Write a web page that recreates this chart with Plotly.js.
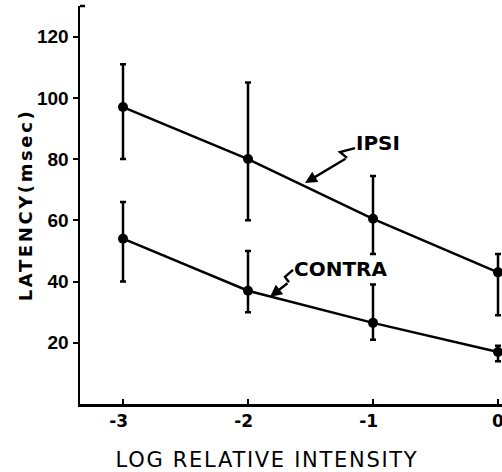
<!DOCTYPE html>
<html>
<head>
<meta charset="utf-8">
<script src="https://cdn.plot.ly/plotly-3.0.1.min.js"></script>
<style>
html,body{margin:0;padding:0;background:#fff;}
#chart{width:502px;height:472px;}
text.xtitle{letter-spacing:1.7px;transform:translate(-24px,0px);}
text.ytitle{letter-spacing:2.6px;}
</style>
</head>
<body>
<div id="chart"></div>
<script>
// Data
const logIntensity = [-3, -2, -1, 0];
const ipsiLatency = [97, 80, 60.5, 43];
const ipsiUpper = [111, 105, 74.5, 49];
const ipsiLower = [80, 60, 49, 29];
const contraLatency = [54, 37, 26.5, 17];
const contraUpper = [66, 50, 39, 19];
const contraLower = [40, 30, 21, 14];
const xTickVals = [-3, -2, -1, 0];
const xTickText = ['-3\u2002', '-2\u2002', '-1\u2002', '0'];
const yTickVals = [20, 40, 60, 80, 100, 120];
const seriesLabels = ['IPSI', 'CONTRA'];

function errs(v, up, lo) {
  return {
    plus: up.map((u, i) => u - v[i]),
    minus: lo.map((l, i) => v[i] - l)
  };
}
const ie = errs(ipsiLatency, ipsiUpper, ipsiLower);
const ce = errs(contraLatency, contraUpper, contraLower);

function series(y, e, name) {
  return {
    x: logIntensity, y: y, name: name, type: 'scatter', mode: 'lines+markers',
    line: {color: '#000', width: 2.5},
    marker: {color: '#000', size: 10, symbol: 'circle'},
    error_y: {type: 'data', symmetric: false, array: e.plus, arrayminus: e.minus,
              color: '#000', thickness: 2.5, width: 3},
    cliponaxis: false, showlegend: false
  };
}

const traces = [series(ipsiLatency, ie, seriesLabels[0]), series(contraLatency, ce, seriesLabels[1])];

const font = 'DejaVu Sans, sans-serif';
const layout = {
  width: 502, height: 472,
  margin: {l: 80, r: 0, t: 6, b: 68},
  paper_bgcolor: '#fff', plot_bgcolor: '#fff',
  showlegend: false,
  xaxis: {
    range: [-3.344, 0.032], tickvals: xTickVals, ticktext: xTickText,
    ticks: 'inside', ticklen: 5, tickwidth: 2, tickcolor: '#000', ticklabeloverflow: 'allow',
    showline: true, linecolor: '#000', linewidth: 2.5, showgrid: false, zeroline: false,
    tickfont: {family: font, size: 17, color: '#000', weight: 'bold'},
    title: {text: 'LOG RELATIVE INTENSITY', font: {family: font, size: 21, color: '#000'}, standoff: 24}
  },
  yaxis: {
    range: [0, 130], tickvals: yTickVals,
    ticks: 'outside', ticklen: 5, tickwidth: 2, tickcolor: '#000', ticklabeloverflow: 'allow',
    showline: true, linecolor: '#000', linewidth: 2.5, showgrid: false, zeroline: false,
    tickfont: {family: 'Liberation Sans, Arial, sans-serif', size: 19, color: '#000', weight: 'bold'},
    title: {text: 'LATENCY(msec)', font: {family: font, size: 18, color: '#000', weight: 'bold'}, standoff: 0}
  },
  annotations: [
    {x: -0.96, y: 85.4, xref: 'x', yref: 'y', text: seriesLabels[0], showarrow: false,
     font: {family: font, size: 20, color: '#000', weight: 'bold'}},
    {x: -1.264, y: 44.1, xref: 'x', yref: 'y', text: seriesLabels[1], showarrow: false,
     font: {family: font, size: 20, color: '#000', weight: 'bold'}},
    {x: -1.544, y: 72.2, ax: -1.208, ay: 80.4, axref: 'x', ayref: 'y', xref: 'x', yref: 'y',
     text: '', showarrow: true, arrowhead: 2, arrowsize: 1, arrowwidth: 2.4, arrowcolor: '#000'},
    {x: -1.824, y: 35.0, ax: -1.672, ay: 39.8, axref: 'x', ayref: 'y', xref: 'x', yref: 'y',
     text: '', showarrow: true, arrowhead: 2, arrowsize: 1, arrowwidth: 2.4, arrowcolor: '#000'}
  ],
  shapes: [
    {type: 'path', xref: 'x', yref: 'y', path: 'M -1.144 83.6 L -1.264 82.3 L -1.208 80.4',
     line: {color: '#000', width: 2.4}},
    {type: 'path', xref: 'x', yref: 'y', path: 'M -1.64 43.8 L -1.704 41.5 L -1.672 39.8',
     line: {color: '#000', width: 2.4}},
    {type: 'line', xref: 'paper', yref: 'paper', x0: 0, x1: 0.012, y0: 1, y1: 1,
     line: {color: '#000', width: 2.5}}
  ]
};

Plotly.newPlot('chart', traces, layout, {displayModeBar: false, staticPlot: true});
</script>
</body>
</html>
